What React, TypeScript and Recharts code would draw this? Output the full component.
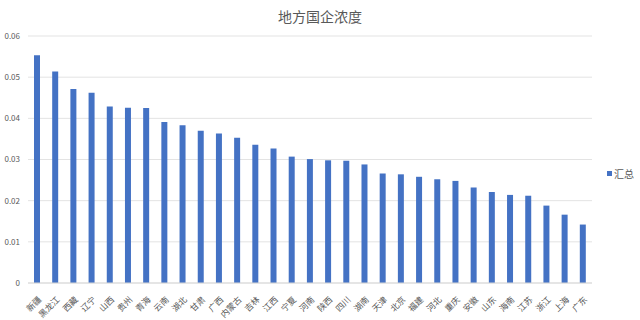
import { Bar, BarChart, CartesianGrid, Legend, XAxis, YAxis } from "recharts";

const provinces = [
  "新疆", "黑龙江", "西藏", "辽宁", "山西", "贵州", "青海", "云南", "湖北", "甘肃", "广西",
  "内蒙古", "吉林", "江西", "宁夏", "河南", "陕西", "四川", "湖南", "天津", "北京", "福建",
  "河北", "重庆", "安徽", "山东", "海南", "江苏", "浙江", "上海", "广东"
];

const totals = [
  0.0553, 0.0514, 0.0471, 0.0462, 0.0429, 0.0426, 0.0425, 0.0391, 0.0383, 0.037, 0.0363,
  0.0353, 0.0336, 0.0327, 0.0307, 0.0301, 0.0298, 0.0297, 0.0288, 0.0266, 0.0264, 0.0258,
  0.0252, 0.0248, 0.0232, 0.0221, 0.0214, 0.0212, 0.0188, 0.0166, 0.0142
];

const yTicks = [0, 0.01, 0.02, 0.03, 0.04, 0.05, 0.06];

const rows = provinces.map((name, i) => ({ name, value: totals[i] }));

const font = '"Noto Sans CJK SC", "Noto Sans", sans-serif';
const grey = "#595959";

function AngledTick({ x, y, payload }: any) {
  return (
    <g transform={`translate(${x},${y})`}>
      <text
        x={0}
        y={0}
        dy={10}
        dx={-3}
        textAnchor="end"
        transform="rotate(-45)"
        fontSize={8.5}
        fill={grey}
        fontFamily={font}
      >
        {payload.value}
      </text>
    </g>
  );
}

function LegendBox() {
  return (
    <div
      style={{
        display: "flex",
        alignItems: "center",
        whiteSpace: "nowrap",
        paddingLeft: 15,
        paddingTop: 26,
        fontSize: 10,
        color: grey,
        fontFamily: font
      }}
    >
      <span style={{ width: 5, height: 5, background: "#4472C4", marginRight: 2, display: "inline-block", flexShrink: 0 }} />
      汇总
    </div>
  );
}

export default function App() {
  return (
    <div style={{ position: "absolute", left: 0, top: 0, width: 640, height: 320, background: "#fff" }}>
      <div
        style={{
          position: "absolute",
          top: 6,
          left: 0,
          width: 640,
          textAlign: "center",
          fontSize: 14,
          color: grey,
          fontFamily: font
        }}
      >
        地方国企浓度
      </div>
      <BarChart width={640} height={320} data={rows} margin={{ top: 36, right: 8, bottom: 0, left: 0 }}>
        <CartesianGrid vertical={false} stroke="#e3e3e3" />
        <XAxis
          dataKey="name"
          interval={0}
          height={37}
          tickLine={false}
          axisLine={{ stroke: "#d9d9d9" }}
          tick={<AngledTick />}
        />
        <YAxis
          width={28}
          domain={[0, 0.06]}
          ticks={yTicks}
          axisLine={false}
          tickLine={false}
          tickSize={0}
          tickMargin={8}
          tick={{ fontSize: 8, fill: grey, fontFamily: font }}
          tickFormatter={(v: number) => (v === 0 ? "0" : v.toFixed(2))}
        />
        <Legend
          layout="vertical"
          align="right"
          verticalAlign="middle"
          wrapperStyle={{ width: 40 }}
          content={<LegendBox />}
        />
        <Bar dataKey="value" name="汇总" fill="#4472C4" barSize={6} isAnimationActive={false} />
      </BarChart>
    </div>
  );
}
